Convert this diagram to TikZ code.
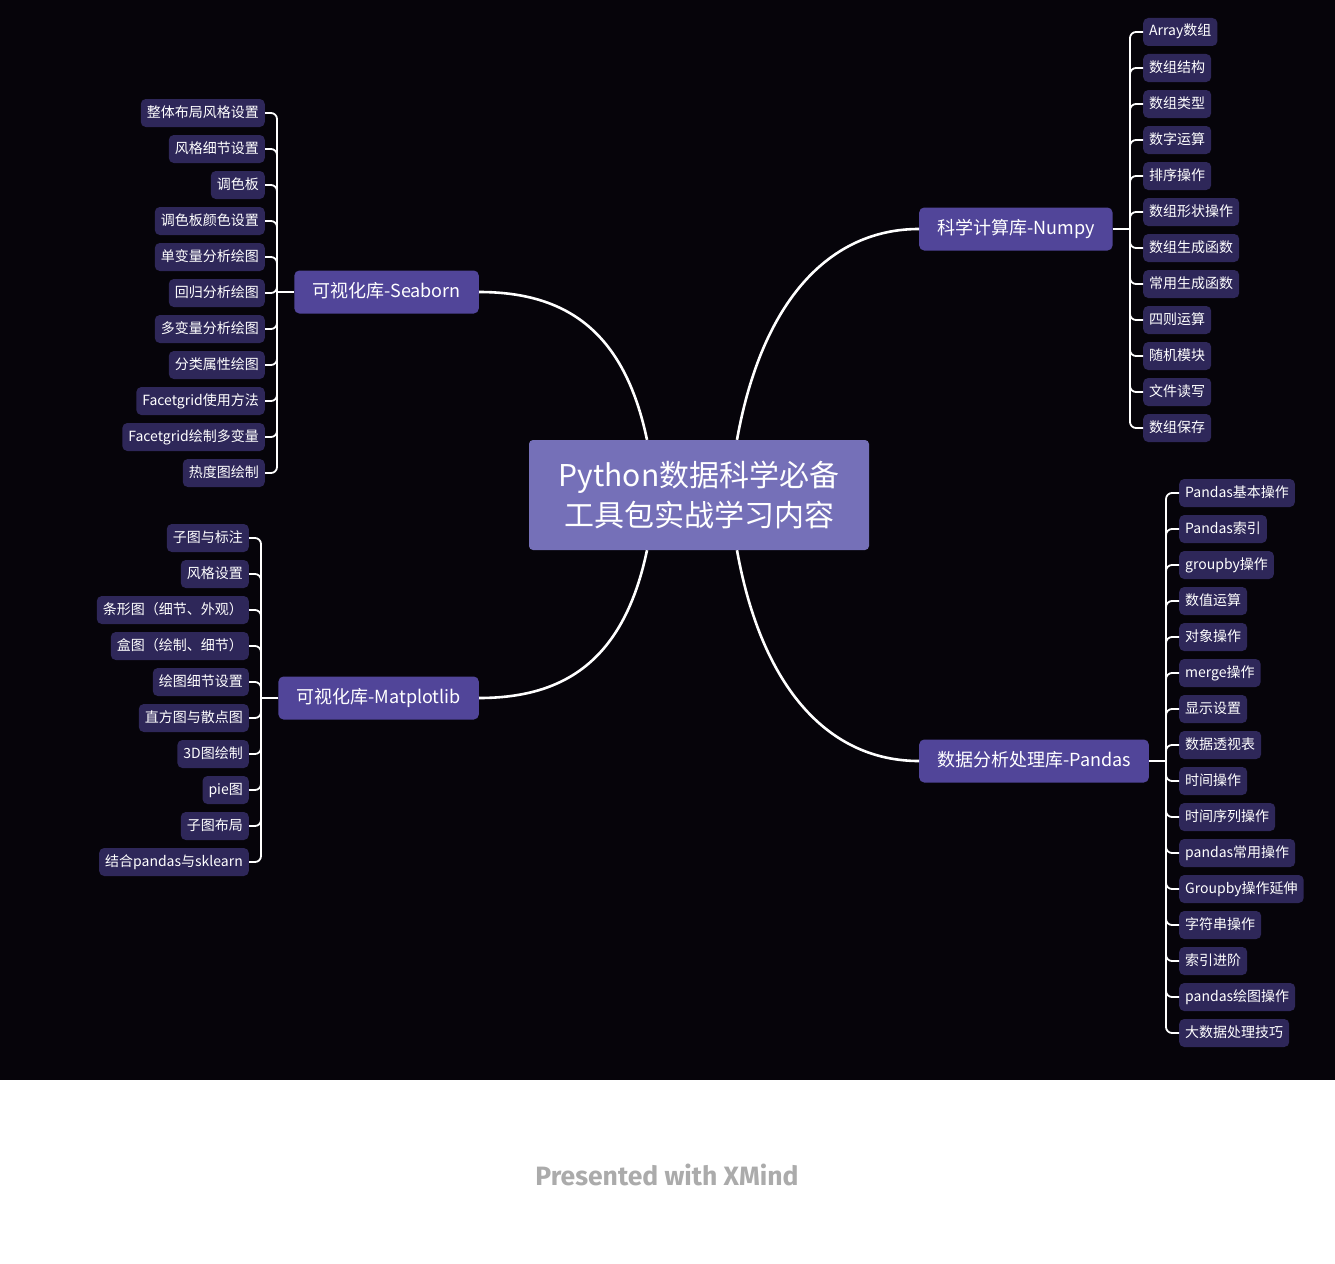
\documentclass[tikz,border=0pt]{standalone}
\usepackage{fontspec}
\setmainfont{Noto Sans CJK SC}
\newfontfamily\footfont{Fira Sans}
\usepackage{tikz}
\usetikzlibrary{positioning}

\definecolor{bgdark}{RGB}{6,4,10}
\definecolor{ctrfill}{RGB}{117,112,184}
\definecolor{brfill}{RGB}{81,69,153}
\definecolor{leaffill}{RGB}{46,39,89}
\definecolor{footgray}{RGB}{171,171,171}

\begin{document}
\begin{tikzpicture}[
  x=1pt, y=-1pt,
  ctr/.style={fill=ctrfill, rounded corners=4pt, text=white, align=center,
              font=\fontsize{30}{40}\selectfont, minimum width=340pt,
              minimum height=110pt},
  topic/.style={fill=brfill, rounded corners=5pt, text=white,
                font=\fontsize{18}{22}\selectfont, inner xsep=18pt,
                inner ysep=12.5pt, text height=14pt, text depth=4pt},
  leaf/.style={fill=leaffill, rounded corners=5pt, text=white,
               font=\fontsize{14}{16}\selectfont, inner xsep=6pt,
               inner ysep=7pt, text height=11pt, text depth=3pt},
  ln/.style={draw=white, line width=2.6pt},
  br/.style={draw=white, line width=1.8pt, rounded corners=6pt},
]

% canvas
\fill[bgdark] (0,0) rectangle (1335,1080);
\fill[white] (0,1080) rectangle (1335,1263);
\useasboundingbox (0,0) rectangle (1335,1263);

% main topics
\node[ctr] (main) at (699,495) {Python数据科学必备\\工具包实战学习内容};
\node[topic, anchor=west] (numpy) at (919,229) {科学计算库-Numpy};
\node[topic, anchor=east] (seaborn) at (479,292) {可视化库-Seaborn};
\node[topic, anchor=east] (mpl) at (479,698) {可视化库-Matplotlib};
\node[topic, anchor=west] (pandas) at (919,761) {数据分析处理库-Pandas};

\draw[ln] (main.north) ++(-52,0) .. controls (624,330) and (565,292) .. (seaborn.east);
\draw[ln] (main.north) ++(38,0) .. controls (762,300) and (830,229) .. (numpy.west);
\draw[ln] (main.south) ++(-52,0) .. controls (624,660) and (565,698) .. (mpl.east);
\draw[ln] (main.south) ++(38,0) .. controls (762,690) and (830,761) .. (pandas.west);

% Numpy
\coordinate (npj) at (1130,229);
\draw[br] (numpy.east) -- (npj);
\foreach \txt [count=\i] in {Array数组, 数组结构, 数组类型, 数字运算, 排序操作,
    数组形状操作, 数组生成函数, 常用生成函数, 四则运算, 随机模块, 文件读写, 数组保存} {
  \node[leaf, anchor=west] (np\i) at (1143,{32+36*(\i-1)}) {\txt};
  \draw[br] (npj) |- (np\i.west);
}

% Seaborn
\coordinate (sbj) at (277,292);
\draw[br] (seaborn.west) -- (sbj);
\foreach \txt [count=\i] in {整体布局风格设置, 风格细节设置, 调色板, 调色板颜色设置,
    单变量分析绘图, 回归分析绘图, 多变量分析绘图, 分类属性绘图, Facetgrid使用方法,
    Facetgrid绘制多变量, 热度图绘制} {
  \node[leaf, anchor=east] (sb\i) at (265,{113+36*(\i-1)}) {\txt};
  \draw[br] (sbj) |- (sb\i.east);
}

% Matplotlib
\coordinate (mpj) at (261,698);
\draw[br] (mpl.west) -- (mpj);
\foreach \txt [count=\i] in {子图与标注, 风格设置, 条形图（细节、外观）, 盒图（绘制、细节）,
    绘图细节设置, 直方图与散点图, 3D图绘制, pie图, 子图布局, 结合pandas与sklearn} {
  \node[leaf, anchor=east] (mp\i) at (249,{538+36*(\i-1)}) {\txt};
  \draw[br] (mpj) |- (mp\i.east);
}

% Pandas
\coordinate (pdj) at (1166,761);
\draw[br] (pandas.east) -- (pdj);
\foreach \txt [count=\i] in {Pandas基本操作, Pandas索引, groupby操作, 数值运算, 对象操作,
    merge操作, 显示设置, 数据透视表, 时间操作, 时间序列操作, pandas常用操作,
    Groupby操作延伸, 字符串操作, 索引进阶, pandas绘图操作, 大数据处理技巧} {
  \node[leaf, anchor=west] (pd\i) at (1179,{493+36*(\i-1)}) {\txt};
  \draw[br] (pdj) |- (pd\i.west);
}

\node[text=footgray, font=\footfont\bfseries\fontsize{26.5}{30}\selectfont] (foot)
  at (667,1175) {Presented with XMind};

\end{tikzpicture}
\end{document}
